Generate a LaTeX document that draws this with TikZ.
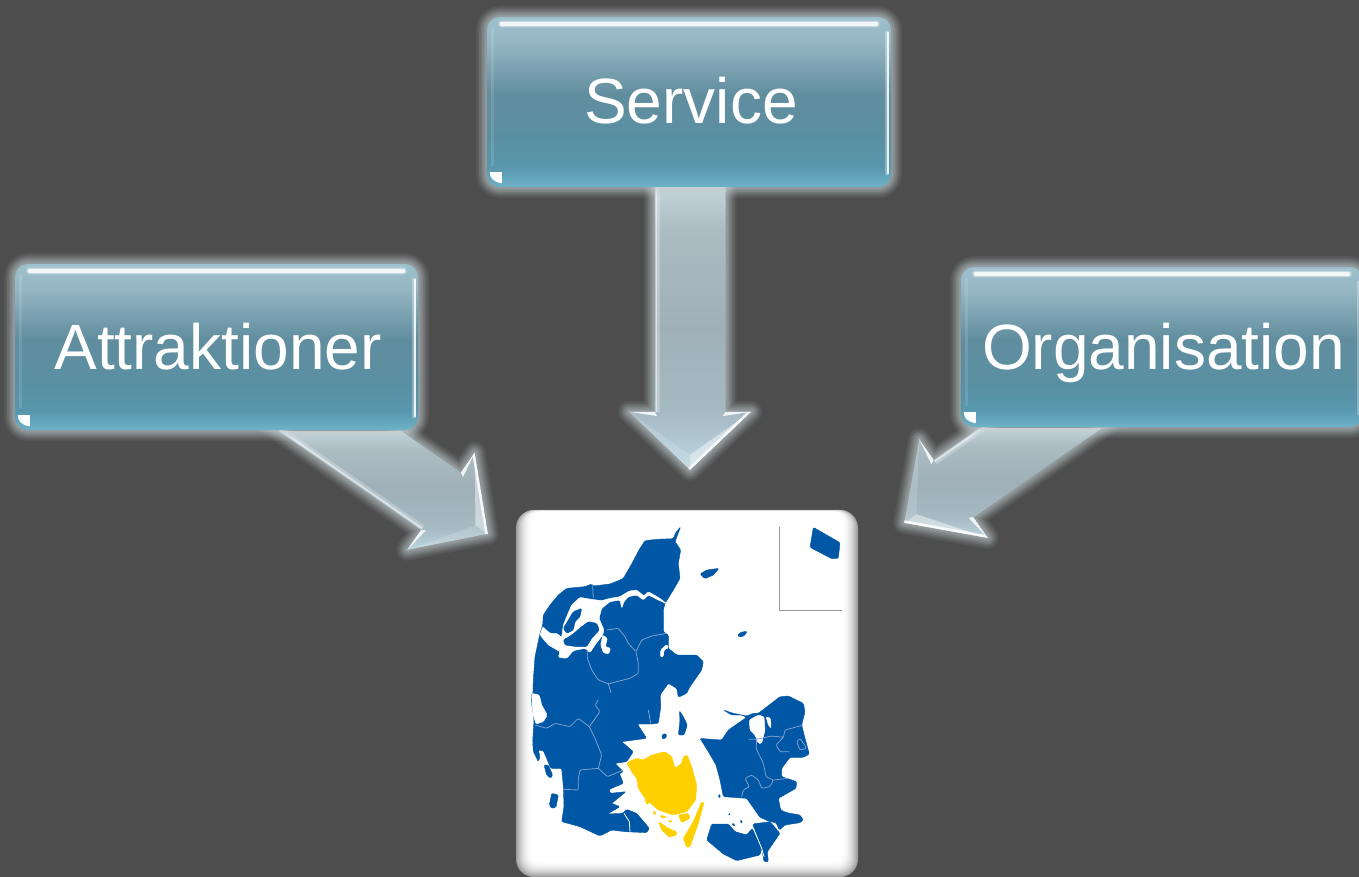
\documentclass[tikz,border=0pt]{standalone}
\usepackage{fontspec}
\setmainfont{Liberation Sans}
\usetikzlibrary{calc}
\definecolor{bgc}{HTML}{4D4D4D}
\definecolor{glowc}{HTML}{C4CFD3}
\definecolor{bluec}{HTML}{0057A6}
\definecolor{yelc}{HTML}{FFCF00}
\definecolor{linec}{HTML}{7FA0CC}
\definecolor{rimc}{HTML}{9C9C9C}
\definecolor{sa}{HTML}{6DB2C9}\definecolor{sb}{HTML}{5796AC}\definecolor{sc}{HTML}{5A8FA2}
\definecolor{sd}{HTML}{618E9F}\definecolor{se}{HTML}{95B6C3}\definecolor{sf}{HTML}{9CC0CC}
\definecolor{aa}{HTML}{C3D3DA}\definecolor{ab}{HTML}{ABBBC2}\definecolor{ac}{HTML}{9FB0B8}
\definecolor{ad}{HTML}{A6BAC3}\definecolor{ae}{HTML}{BDD7E2}
\pgfdeclareverticalshading{boxsh}{100bp}{color(0bp)=(sa);color(25bp)=(sa);color(31bp)=(sb);color(40bp)=(sc);color(52.5bp)=(sd);color(67.5bp)=(se);color(75bp)=(sf);color(100bp)=(sf)}
\pgfdeclareverticalshading{arrowsh}{100bp}{color(0bp)=(ae);color(25bp)=(ae);color(35bp)=(ad);color(50bp)=(ac);color(67bp)=(ab);color(75bp)=(aa);color(100bp)=(aa)}
\pgfdeclarelayer{back}
\pgfsetlayers{back,main}
\tikzset{
  glowpath/.style={
    preaction={draw=glowc,line join=round,line width=22pt,draw opacity=.07},
    preaction={draw=glowc,line join=round,line width=19pt,draw opacity=.08},
    preaction={draw=glowc,line join=round,line width=16pt,draw opacity=.10},
    preaction={draw=glowc,line join=round,line width=13pt,draw opacity=.12},
    preaction={draw=glowc,line join=round,line width=10pt,draw opacity=.14},
    preaction={draw=glowc,line join=round,line width=7pt,draw opacity=.16},
    preaction={draw=glowc,line join=round,line width=4pt,draw opacity=.18}},
  boxnode/.style={rectangle,rounded corners=13pt,glowpath,shade,shading=boxsh,shading angle=0,
    text=white,font=\fontsize{64}{70}\selectfont,inner sep=0pt,text height=44pt,text depth=0pt},
  mapnode/.style={rectangle,rounded corners=18pt,fill=rimc,inner sep=0pt,minimum width=342pt,minimum height=367pt},
  bluearea/.style={fill=bluec,draw=bluec,line width=.4pt,rounded corners=1.2pt,line join=round},
  yelarea/.style={fill=yelc,draw=yelc,line width=.4pt,rounded corners=1.2pt,line join=round},
  cutarea/.style={fill=white,draw=white,line width=.4pt,rounded corners=1.2pt,line join=round},
  regionline/.style={draw=linec,line width=.8pt,line join=round,rounded corners=1.2pt},
  shine/.style={draw=white,line cap=round},
}
% #1 tail, #2 tip, #3 half shaft, #4 half head, #5 head length, #6 top y, #7 bottom y
\newcommand\blockarrow[7]{%
  \begin{pgfonlayer}{back}
  \coordinate (N) at ($(#2)!#5pt!(#1)$);
  \coordinate (A1) at ($(#1)!#3pt!90:(#2)$);
  \coordinate (A2) at ($(#1)!#3pt!-90:(#2)$);
  \coordinate (n1) at ($(N)!#3pt!90:(#2)$);
  \coordinate (n2) at ($(N)!#3pt!-90:(#2)$);
  \coordinate (c1) at ($(N)!#4pt!90:(#2)$);
  \coordinate (c2) at ($(N)!#4pt!-90:(#2)$);
  \coordinate (iT) at ($(#2)!15pt!(#1)$);
  \path[glowpath] (A1)--(n1)--(c1)--(#2)--(c2)--(n2)--(A2)--cycle;
  \begin{scope}
    \clip (A1)--(n1)--(c1)--(#2)--(c2)--(n2)--(A2)--cycle;
    \shade[shading=arrowsh,shading angle=0] (0,#6) rectangle (1359,#7);
    % bevel of the head
    \fill[white,opacity=.45] (c1)--(#2)--(iT)--cycle;
    \fill[white,opacity=.15] (c2)--(#2)--(iT)--cycle;
    \draw[white,line width=5pt,opacity=.85] (c1)--(#2);
    % notches of the head
    \fill[white,opacity=.85] (c1)--(n1)--($(n1)!5pt!(#2)$)--cycle;
    \fill[white,opacity=.85] (c2)--(n2)--($(n2)!5pt!(#2)$)--cycle;
    % lit edge of the shaft
    \draw[white,line width=5pt,opacity=.25] ($(n2)!3pt!(N)$)--($(A2)!3pt!(#1)$);
    \draw[white,line width=1.5pt,opacity=.55] ($(n2)!2pt!(N)$)--($(A2)!2pt!(#1)$);
  \end{scope}
  \end{pgfonlayer}}
% gloss of a box
\newcommand\glossbox[1]{%
  \draw[shine,line width=9pt,draw opacity=.12] ($(#1.north west)+(15,7)$)--($(#1.north east)+(-15,7)$);
  \draw[shine,line width=6.5pt,draw opacity=.35] ($(#1.north west)+(15,7)$)--($(#1.north east)+(-15,7)$);
  \draw[shine,line width=4pt,draw opacity=.8] ($(#1.north west)+(15,7)$)--($(#1.north east)+(-15,7)$);
  \draw[shine,line width=4.5pt,draw opacity=.3] ($(#1.north east)+(-4,16)$)--($(#1.south east)+(-4,-14)$);
  \draw[shine,line width=2.5pt,draw opacity=.85] ($(#1.north east)+(-3,16)$)--($(#1.south east)+(-3,-14)$);
  \draw[shine,line width=3pt,draw opacity=.12] ($(#1.north west)+(6,12)$)--($(#1.south west)+(6,-22)$);
  \fill[white] ($(#1.south west)+(3,-15)$)--($(#1.south west)+(15,-15)$)--($(#1.south west)+(15,-4)$)
     .. controls ($(#1.south west)+(7,-5)$) and ($(#1.south west)+(3,-9)$) .. ($(#1.south west)+(3,-15)$)--cycle;}
\begin{document}
\begin{tikzpicture}[x=1pt,y=-1pt]
\useasboundingbox (0,0) rectangle (1359,877);
\begin{pgfonlayer}{back}
\fill[bgc] (0,0) rectangle (1359,877);
\end{pgfonlayer}

\node[boxnode,minimum width=404pt,minimum height=170pt] (service) at (689,102) {\hspace{4pt}Service};
\node[boxnode,minimum width=403pt,minimum height=166pt] (attr) at (216.5,347) {\hspace{3pt}Attraktioner};
\node[boxnode,minimum width=402pt,minimum height=160pt] (org) at (1162,347) {\hspace{3pt}Organisation};
\glossbox{service}\glossbox{attr}\glossbox{org}

\node[mapnode] (map) at (687,693.5) {};

\coordinate (svctail) at ($(service.south)+(1,-40)$);
\coordinate (svctip) at ($(map.north)+(3,-40)$);
\coordinate (attrtail) at ($(attr.south)+(41.5,-56)$);
\coordinate (attrtip) at ($(map.north west)+(-28,24)$);
\coordinate (orgtail) at ($(org.south)+(-28,-64)$);
\coordinate (orgtip) at ($(map.north east)+(46,13)$);

\blockarrow{svctail}{svctip}{35.5}{61}{58}{187}{470}
\blockarrow{attrtail}{attrtip}{35}{59}{57}{431}{552}
\blockarrow{orgtail}{orgtip}{35}{60}{60}{428}{540}

% bevelled plate of the map
\foreach \k in {1,...,17}{
  \pgfmathsetmacro\wh{min(100,100*(1-(1-\k/17)^2.2))}
  \pgfmathsetmacro\rr{max(18-\k*.6,6)}
  \fill[white!\wh!rimc,rounded corners=\rr pt] ($(map.north west)+(\k,\k*.12)$) rectangle ($(map.south east)+(-\k,-\k)$);
}

% northern half of Jutland
\begin{scope}[shift={(530,580)},scale=1/3]
\path[bluearea] (452,-160)--(437,-142)--(430,-124)--(380,-122)--(345,-118)--(328,-92)--(305,-48)--(280,-5)--(265,2)--(240,12)--(190,18)--(185,12)--(165,20)--(110,25)--(85,45)--(60,75)--(40,105)--(38,135)--(30,160)--(15,230)--(10,300)--(8,360)--(8,400)--(390,400)--(390,345)--(415,310)--(440,325)--(445,352)--(470,340)--(480,320)--(515,270)--(520,245)--(500,225)--(440,225)--(415,205)--(415,165)--(400,155)--(400,90)--(405,70)--(430,30)--(450,-5)--(445,-50)--(452,-90)--(435,-115)--cycle;
\path[cutarea] (412,72)--(385,52)--(355,35)--(342,48)--(320,30)--(298,33)--(270,50)--(240,55)--(215,62)--(185,58)--(150,52)--(125,75)--(112,105)--(100,135)--(95,172)--(80,160)--(60,160)--(38,140)--(30,165)--(55,195)--(90,215)--(85,232)--(110,235)--(130,212)--(165,205)--(180,218)--(195,195)--(218,165)--(222,150)--(207,115)--(215,85)--(240,65)--(270,60)--(275,85)--(282,65)--(295,50)--(320,45)--(340,60)--(355,45)--(385,60)--cycle;
\path[bluearea] (115,120)--(130,95)--(155,85)--(150,110)--(135,125)--(130,150)--(110,160)--(100,145)--cycle;
\path[bluearea] (125,165)--(155,140)--(175,125)--(200,130)--(208,150)--(185,175)--(170,200)--(140,200)--(105,195)--(100,180)--cycle;
\path[cutarea] (218,165)--(232,175)--(226,200)--(242,205)--(236,222)--(220,218)--(212,195)--cycle;
\path[cutarea] (410,193)--(392,210)--(392,232)--(400,230)--(402,210)--(416,203)--cycle;
\path[cutarea] (412,332)--(438,326)--(442,342)--(415,342)--cycle;
\draw[regionline] (188,15)--(190,55);
\draw[regionline] (230,150)--(265,145)--(285,170)--(295,190)--(318,215)--(335,180)--(365,168)--(410,160);
\draw[regionline] (318,215)--(325,250)--(325,280)--(300,295)--(260,305)--(235,312)--(205,300)--(185,270)--(172,235)--(172,210);
\draw[regionline] (235,312)--(245,345)--(235,360)--(205,365)--(195,385)--(208,400);
\draw[regionline] (235,360)--(250,380)--(285,370)--(315,380)--(325,395)--(355,390);
\end{scope}

% southern half of Jutland and Funen
\begin{scope}[shift={(530,700)},scale=1/3]
\path[bluearea] (5,-20)--(5,10)--(12,60)--(8,125)--(10,155)--(25,185)--(30,170)--(25,150)--(40,152)--(50,175)--(62,205)--(95,205)--(100,260)--(102,320)--(95,365)--(150,380)--(210,408)--(245,390)--(285,395)--(350,398)--(358,385)--(320,340)--(290,328)--(278,340)--(232,342)--(270,320)--(245,310)--(288,275)--(240,280)--(238,268)--(280,250)--(268,220)--(280,215)--(255,190)--(290,185)--(310,155)--(275,125)--(350,115)--(322,72)--(365,72)--(385,70)--(392,20)--(390,-20)--cycle;
\path[cutarea] (5,-20)--(28,-15)--(35,15)--(52,45)--(40,65)--(18,72)--(8,40)--cycle;
\path[bluearea] (448,32)--(460,50)--(472,75)--(462,105)--(445,105)--(450,60)--cycle;
\path[bluearea] (395,105)--(408,100)--(410,112)--(398,118)--cycle;
\path[bluearea] (42,195)--(55,195)--(68,225)--(62,235)--(50,225)--cycle;
\path[bluearea] (65,280)--(85,285)--(78,322)--(65,325)--(58,315)--cycle;
\path[yelarea] (290,188)--(320,175)--(340,180)--(365,165)--(405,155)--(425,170)--(435,205)--(455,190)--(460,170)--(472,165)--(485,200)--(500,255)--(497,300)--(470,335)--(430,345)--(385,330)--(345,295)--(325,265)--(320,235)--(305,215)--cycle;
\path[yelarea] (445,345)--(475,340)--(480,355)--(455,368)--cycle;
\path[yelarea] (385,365)--(415,385)--(440,395)--(440,405)--(418,412)--(395,390)--cycle;
\path[yelarea] (515,305)--(522,308)--(505,370)--(480,440)--(470,442)--(460,415)--(490,365)--cycle;
\path[yelarea] (345,295)--(360,305)--(350,315)--cycle;
\path[yelarea] (370,332)--(380,340)--(372,345)--cycle;
\path[yelarea] (390,345)--(412,352)--(395,354)--cycle;
\path[yelarea] (415,360)--(428,365)--(418,368)--cycle;
\draw[regionline] (15,75)--(50,85)--(75,70)--(120,80)--(145,55)--(178,80);
\draw[regionline] (178,80)--(195,115)--(215,165)--(205,205);
\draw[regionline] (178,80)--(210,35)--(195,15)--(205,0);
\draw[regionline] (205,205)--(150,210)--(145,235)--(145,270)--(100,268);
\draw[regionline] (205,205)--(232,230)--(280,210);
\draw[regionline] (355,30)--(362,70);
\draw[draw=white,line width=.8pt] (282,340)--(298,365)--(300,395);
\end{scope}

% Zealand, Lolland, Falster
\begin{scope}[shift={(690,680)},scale=1/3]
\path[bluearea] (205,100)--(270,50)--(295,48)--(340,70)--(345,95)--(335,135)--(345,175)--(358,222)--(340,232)--(300,232)--(275,265)--(275,290)--(320,305)--(318,325)--(265,355)--(272,390)--(290,398)--(330,405)--(340,420)--(330,428)--(285,435)--(268,450)--(258,428)--(240,425)--(210,412)--(170,355)--(100,350)--(90,300)--(78,255)--(55,215)--(30,175)--(65,178)--(95,180)--(115,150)--(170,112)--(155,105)--(125,105)--(100,90)--(130,100)--(170,108)--(190,100)--cycle;
\path[cutarea] (178,120)--(205,105)--(222,110)--(225,150)--(215,190)--(205,190)--(195,165)--(180,150)--cycle;
\path[cutarea] (228,110)--(242,115)--(243,145)--(235,135)--cycle;
\path[bluearea] (65,432)--(115,432)--(135,455)--(170,465)--(187,445)--(215,505)--(210,525)--(140,542)--(100,522)--(50,480)--cycle;
\path[bluearea] (188,432)--(240,425)--(270,460)--(232,515)--(235,545)--(222,545)--(215,505)--cycle;
\path[bluearea] (115,400)--(122,402)--(118,408)--cycle;
\path[bluearea] (125,430)--(135,432)--(132,440)--cycle;
\path[bluearea] (150,420)--(157,422)--(155,432)--cycle;
\path[bluearea] (85,343)--(92,345)--(88,356)--cycle;
\draw[regionline] (175,178)--(200,178)--(245,168)--(280,172)--(285,150)--(340,135);
\draw[regionline] (200,178)--(198,205)--(220,250)--(228,290)--(250,300)--(240,320)--(215,325)--(205,300)--(185,285)--(165,295)--(178,320)--(160,330)--(155,350);
\draw[regionline] (250,300)--(295,295);
\draw[regionline] (280,172)--(258,195)--(270,215)--(298,215);
\draw[regionline] (320,185)--(330,175)--(350,205)--(330,210)--cycle;
\draw[draw=white,line width=.8pt] (190,445)--(215,505)--(222,530);
\end{scope}

% Læsø, Anholt, Bornholm and the inset frame
\begin{scope}[shift={(510,500)},scale=1/3]
\path[bluearea] (570,222)--(590,210)--(627,205)--(610,225)--(585,236)--cycle;
\path[bluearea] (682,405)--(695,396)--(712,394)--(702,408)--(688,411)--cycle;
\path[bluearea] (910,82)--(990,128)--(985,175)--(965,176)--(900,142)--cycle;
\draw[draw=gray!80,line width=.8pt] (808,80)--(808,330)--(995,330);
\end{scope}
\end{tikzpicture}
\end{document}
